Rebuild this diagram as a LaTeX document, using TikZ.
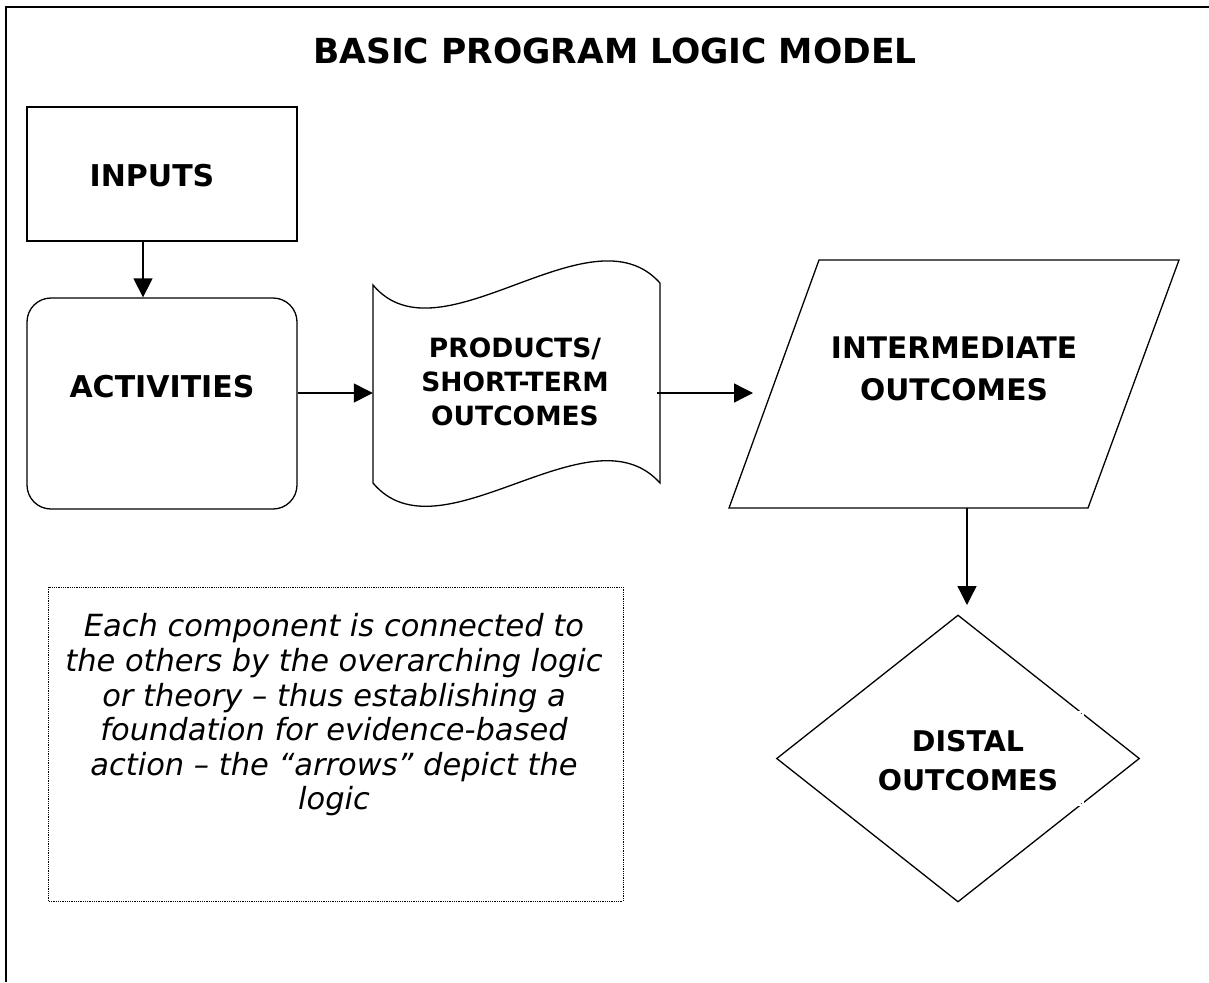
\documentclass[tikz,border=0pt]{standalone}
\usepackage{fontspec}
\setmainfont{DejaVu Sans}
\usetikzlibrary{arrows.meta,shapes.geometric}
\begin{document}
\begin{tikzpicture}[x=1pt,y=-1pt,
  shp/.style={draw,line width=1.3pt},
  lbl/.style={font=\bfseries\fontsize{30}{36}\selectfont, align=center, inner sep=0pt},
  arr/.style={line width=1.3pt,-{Triangle[length=19pt,width=19pt]}}]
\useasboundingbox (0,0) rectangle (1209,982);
% frame
\draw[line width=1.5pt] (1209,7) -- (6,7) -- (6,982);
% title
\node[font=\bfseries\fontsize{34.5}{40}\selectfont] (title) at (615,51) {BASIC PROGRAM LOGIC MODEL};
% inputs
\node[shp, minimum width=270pt, minimum height=134pt, inner sep=0pt] (inp) at (162,174) {};
\node[lbl] (inpt) at (152,176) {INPUTS};
% activities
\node[shp, rounded corners=24pt, minimum width=270pt, minimum height=211pt, inner sep=0pt] (act) at (162,403.5) {};
\node[lbl] (actt) at (162,387) {ACTIVITIES};
\draw[arr] ([xshift=-19pt]inp.south) -- ([xshift=-19pt]act.north);
% products (tape shape)
\draw[shp] (373,285) .. controls (440,365) and (590,205) .. (660,283) -- (660,483)
  .. controls (590,405) and (440,563) .. (373,483) -- cycle;
\node[minimum width=287pt, minimum height=180pt, inner sep=0pt] (prod) at (516.5,393) {};
\node[lbl, font=\bfseries\fontsize{26.5}{34}\selectfont] (prodt) at (515,382) {PRODUCTS/\\SHORT-TERM\\OUTCOMES};
\draw[arr] (prod.west -| act.east) -- (prod.west);
% intermediate
\draw[shp] (819,260) -- (1179,260) -- (1088,508) -- (729,508) -- cycle;
\node[lbl, font=\bfseries\fontsize{29.7}{42}\selectfont] (inter) at (954,369) {INTERMEDIATE\\OUTCOMES};
\coordinate (interin) at (753,393);
\coordinate (interbot) at (967,508);
\draw[arr] ([xshift=-3pt]prod.east) -- (interin);
% distal
\node[shp, diamond, minimum width=363pt, minimum height=287pt, inner sep=0pt] (dist) at (958,758.5) {};
\coordinate (disttop) at (967,605);
\draw[arr] (interbot) -- (disttop);
\draw[white, line width=1.5pt] (860,712) rectangle (1083,805);
\node[lbl, font=\bfseries\fontsize{28.5}{39}\selectfont] (distt) at (968,761) {DISTAL\\OUTCOMES};
% note
\draw[densely dotted, line width=0.8pt] (48,587) rectangle (623,901);
\node[font=\itshape\fontsize{30.5}{34.6}\selectfont, align=center, inner sep=0pt] (note) at (334,715)
  {Each component is connected to\\the others by the overarching logic\\or theory – thus establishing a\\foundation for evidence-based\\action – the “arrows” depict the\\logic};
\end{tikzpicture}
\end{document}
